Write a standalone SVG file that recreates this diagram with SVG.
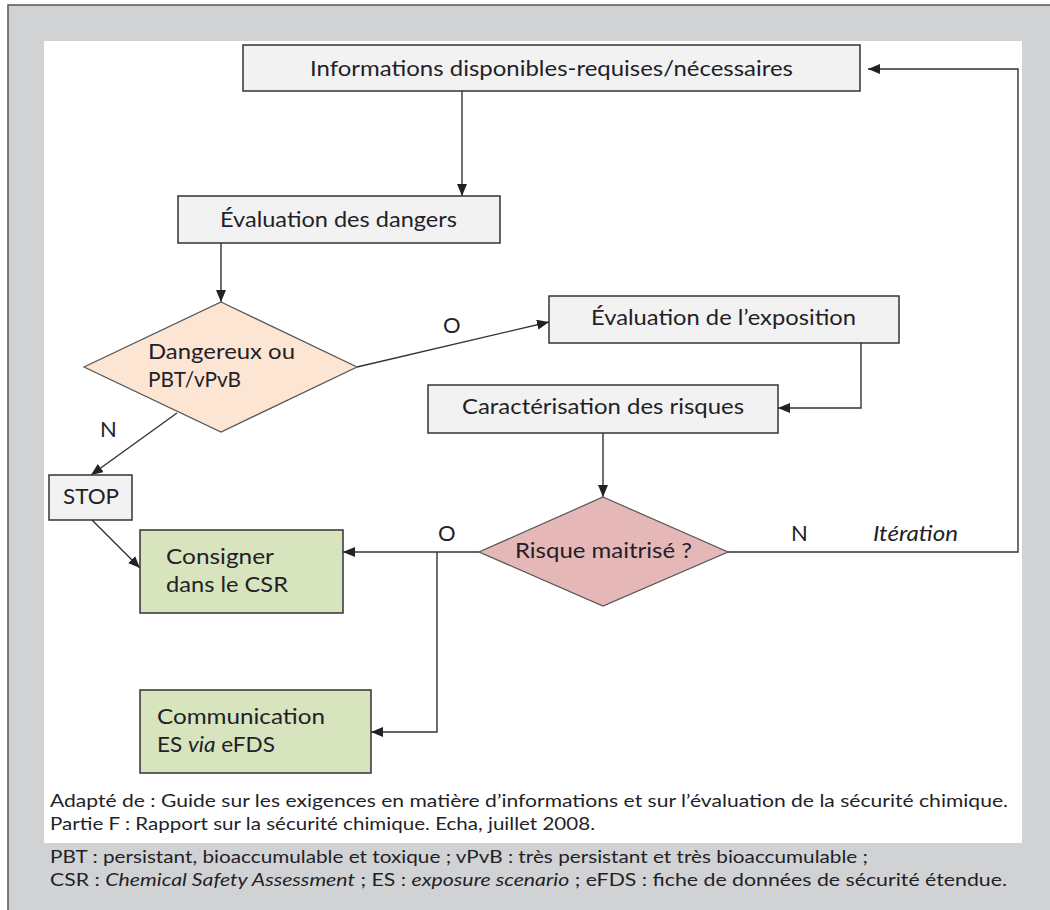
<svg xmlns="http://www.w3.org/2000/svg" width="1050" height="910" viewBox="0 0 1050 910">
<defs>
<marker id="arr" markerUnits="userSpaceOnUse" markerWidth="12" markerHeight="10" refX="12" refY="5" orient="auto">
<path d="M0,0 L12,5 L0,10 z" fill="#222"/>
</marker>
<style>
text{font-family:Lato,"Open Sans","Liberation Sans",sans-serif;fill:#231f28}
.t{font-size:22px}
.s{font-size:17.5px}
.box{fill:#f2f2f2;stroke:#333;stroke-width:1.5}
.grn{fill:#d7e4bd;stroke:#333;stroke-width:1.5}
.c{fill:none;stroke:#333;stroke-width:1.4;marker-end:url(#arr)}
</style>
</defs>
<rect x="8" y="5" width="1060" height="920" fill="#d1d2d4" stroke="#555" stroke-width="1.5"/>
<rect x="44" y="41" width="978" height="802" fill="#fff"/>

<g id="connectors">
<path class="c" d="M462,91 V196"/>
<path class="c" d="M221,243 V302"/>
<path class="c" d="M357,367 L549,322"/>
<path class="c" d="M177,413 L91,475"/>
<path class="c" d="M92,520 L140,568"/>
<path class="c" d="M861,343 V408 H778"/>
<path class="c" d="M603,433 V497"/>
<path class="c" d="M479,552 H343"/>
<path class="c" d="M437,552 V732 H371"/>
<path class="c" d="M728,552 H1018 V69 H868"/>
</g>

<g id="n-info">
<rect class="box" x="243" y="45" width="617" height="46"/>
<text class="t" x="310" y="76" textLength="483" lengthAdjust="spacingAndGlyphs">Informations disponibles-requises/nécessaires</text>
</g>
<g id="n-dangers">
<rect class="box" x="178" y="196" width="322" height="47"/>
<text class="t" x="220" y="227" textLength="237" lengthAdjust="spacingAndGlyphs">Évaluation des dangers</text>
</g>
<g id="n-dangereux">
<polygon points="221,302 357,367 221,432 84,367" fill="#fce5d2" stroke="#555" stroke-width="1.2"/>
<text class="t" x="148" y="359" textLength="147" lengthAdjust="spacingAndGlyphs">Dangereux ou</text>
<text class="t" x="148" y="387" textLength="93" lengthAdjust="spacingAndGlyphs">PBT/vPvB</text>
</g>
<g id="n-stop">
<rect class="box" x="49" y="475" width="83" height="45"/>
<text class="t" x="63" y="504" textLength="56" lengthAdjust="spacingAndGlyphs">STOP</text>
</g>
<g id="n-consigner">
<rect class="grn" x="140" y="530" width="203" height="83"/>
<text class="t" x="166" y="564" textLength="108" lengthAdjust="spacingAndGlyphs">Consigner</text>
<text class="t" x="166" y="592" textLength="122" lengthAdjust="spacingAndGlyphs">dans le CSR</text>
</g>
<g id="n-exposition">
<rect class="box" x="549" y="296" width="350" height="47"/>
<text class="t" x="591" y="325" textLength="265" lengthAdjust="spacingAndGlyphs">Évaluation de l’exposition</text>
</g>
<g id="n-caracterisation">
<rect class="box" x="428" y="385" width="350" height="48"/>
<text class="t" x="462" y="414" textLength="282" lengthAdjust="spacingAndGlyphs">Caractérisation des risques</text>
</g>
<g id="n-risque">
<polygon points="603,497 728,552 603,606 479,552" fill="#e5b8b7" stroke="#555" stroke-width="1.2"/>
<text class="t" x="515" y="558" textLength="177" lengthAdjust="spacingAndGlyphs">Risque maitrisé ?</text>
</g>
<g id="n-communication">
<rect class="grn" x="140" y="690" width="231" height="83"/>
<text class="t" x="157" y="724" textLength="168" lengthAdjust="spacingAndGlyphs">Communication</text>
<text class="t" x="157" y="752" textLength="118" lengthAdjust="spacingAndGlyphs">ES <tspan font-style="italic">via</tspan> eFDS</text>
</g>

<g id="labels">
<text class="t" x="443" y="333">O</text>
<text class="t" x="100" y="437">N</text>
<text class="t" x="438" y="541">O</text>
<text class="t" x="791" y="541">N</text>
<text class="t" x="873" y="541" font-style="italic" textLength="85" lengthAdjust="spacingAndGlyphs">Itération</text>
</g>

<g id="caption">
<text class="s" x="50" y="807" textLength="958" lengthAdjust="spacingAndGlyphs">Adapté de : Guide sur les exigences en matière d’informations et sur l’évaluation de la sécurité chimique.</text>
<text class="s" x="50" y="830" textLength="545" lengthAdjust="spacingAndGlyphs">Partie F : Rapport sur la sécurité chimique. Echa, juillet 2008.</text>
<text class="s" x="50" y="863" textLength="818" lengthAdjust="spacingAndGlyphs">PBT : persistant, bioaccumulable et toxique ; vPvB : très persistant et très bioaccumulable ;</text>
<text class="s" x="50" y="886" textLength="957" lengthAdjust="spacingAndGlyphs">CSR : <tspan font-style="italic">Chemical Safety Assessment</tspan> ; ES : <tspan font-style="italic">exposure scenario</tspan> ; eFDS : fiche de données de sécurité étendue.</text>
</g>
</svg>
